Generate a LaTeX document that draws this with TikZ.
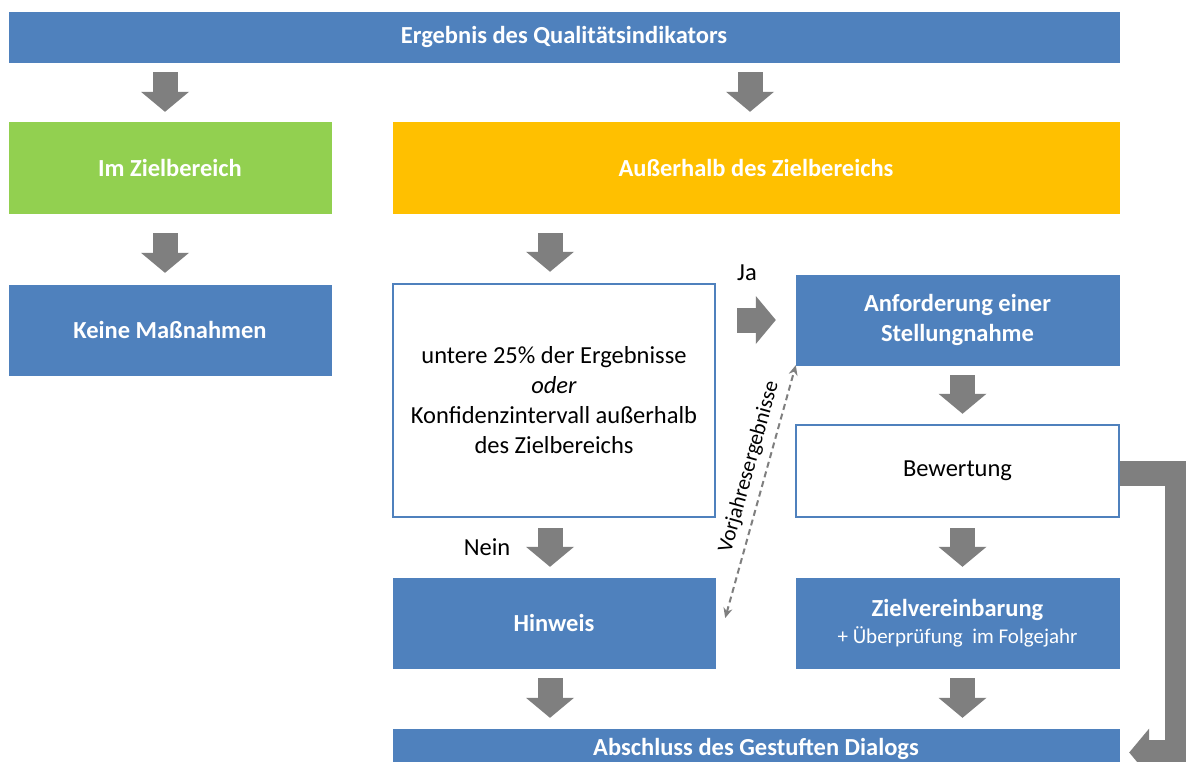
\documentclass[tikz,border=0pt]{standalone}
\usepackage{fontspec}
\setmainfont{Carlito}
\usetikzlibrary{arrows.meta,calc}
\definecolor{qblue}{HTML}{4F81BD}
\definecolor{qgreen}{HTML}{92D050}
\definecolor{qorange}{HTML}{FFC000}
\definecolor{qgray}{HTML}{7F7F7F}
\begin{document}
\begin{tikzpicture}[x=1pt,y=-1pt,
  every node/.style={font=\fontsize{24.5}{30}\selectfont},
  fillbox/.style={draw=#1, fill=#1, text=white, font=\fontsize{24.5}{30}\selectfont\bfseries, align=center, inner sep=0pt},
  whitebox/.style={draw=qblue, line width=2.5pt, fill=white, text=black, align=center, inner sep=0pt},
  blockarr/.style={draw=qgray, line width=25pt, -{Triangle[width=48pt,length=20pt,line width=0pt]}},
  lbl/.style={text=black, inner sep=0pt}
]
\useasboundingbox (0,0) rectangle (1186,762);
\clip (0,0) rectangle (1186,762);
\fill[white] (0,0) rectangle (1186,762);

% boxes
\node[fillbox=qblue, minimum width=1110pt, minimum height=50pt] (top) at (564,37) {Ergebnis des Qualitätsindikators};
\node[fillbox=qgreen, minimum width=322pt, minimum height=91pt] (green) at (170,167.5) {Im Zielbereich};
\node[fillbox=qorange, minimum width=726pt, minimum height=91pt] (orange) at (756,167.5) {Außerhalb des Zielbereichs};
\node[fillbox=qblue, minimum width=322pt, minimum height=90pt] (keine) at (170,330) {Keine Maßnahmen};
\node[whitebox, minimum width=322pt, minimum height=233pt] (crit) at (554,400.5) {untere 25\% der Ergebnisse\\\textit{oder}\\Konfidenzintervall außerhalb\\des Zielbereichs};
\node[fillbox=qblue, minimum width=323pt, minimum height=90pt] (anf) at (957.5,320) {Anforderung einer\\Stellungnahme};
\node[whitebox, minimum width=323pt, minimum height=92pt] (bew) at (957.5,471) {Bewertung};
\node[fillbox=qblue, minimum width=323pt, minimum height=90pt] (ziel) at (957.5,623) {Zielvereinbarung\\[-3pt]{\mdseries\fontsize{21}{24}\selectfont + Überprüfung\ \ im Folgejahr}};
\node[fillbox=qblue, minimum width=322pt, minimum height=90pt] (hinweis) at (554,623) {Hinweis};
\node[fillbox=qblue, minimum width=726pt, minimum height=40pt] (absch) at (756,749) {Abschluss des Gestuften Dialogs};

% labels
\node[lbl] (ja) at (747,273) {Ja};
\node[lbl] (nein) at (487,547) {Nein};

% block arrows
\draw[blockarr, shorten <=10pt, shorten >=10pt] ([xshift=-5pt]top.south -| green.north) -- ([xshift=-5pt]green.north);
\draw[blockarr, shorten <=10pt, shorten >=10pt] ([xshift=-6pt]top.south -| orange.north) -- ([xshift=-6pt]orange.north);
\draw[blockarr, shorten <=20pt, shorten >=12pt] ([xshift=-5pt]green.south) -- ([xshift=-5pt]keine.north);
\draw[blockarr, shorten <=20pt, shorten >=11pt] ([xshift=-4pt]orange.south -| crit.north) -- ([xshift=-4pt]crit.north);
\draw[blockarr, shorten <=21pt, shorten >=20pt] (crit.east |- anf.west) -- (anf.west);
\draw[blockarr, shorten <=10pt, shorten >=10pt] ([xshift=5pt]anf.south) -- ([xshift=5pt]bew.north);
\draw[blockarr, shorten <=10pt, shorten >=11pt] ([xshift=5pt]bew.south) -- ([xshift=5pt]ziel.north);
\draw[blockarr, shorten <=10pt, shorten >=11pt] ([xshift=-4pt]crit.south) -- ([xshift=-4pt]hinweis.north);
\draw[blockarr, shorten <=10pt, shorten >=11pt] ([xshift=5pt]ziel.south) -- ([xshift=5pt]absch.north -| ziel.south);
\draw[blockarr, shorten <=10pt, shorten >=11pt] ([xshift=-4pt]hinweis.south) -- ([xshift=-4pt]absch.north -| hinweis.south);
\draw[blockarr, line join=miter, shorten >=10pt] ([yshift=-2.5pt]bew.east) -- ++(57.5,0) |- ([yshift=-3.5pt]absch.east);

% dashed double arrow
\draw[qgray, line width=2pt, dash pattern=on 6pt off 4pt, {Stealth[length=10pt,width=9pt]}-{Stealth[length=10pt,width=9pt]}]
  ([shift={(10,-5)}]hinweis.east) -- (anf.south west)
  node[pos=0.58, sloped, above=4pt, text=black, font=\fontsize{21.5}{22}\selectfont] {Vorjahresergebnisse};
\end{tikzpicture}
\end{document}
